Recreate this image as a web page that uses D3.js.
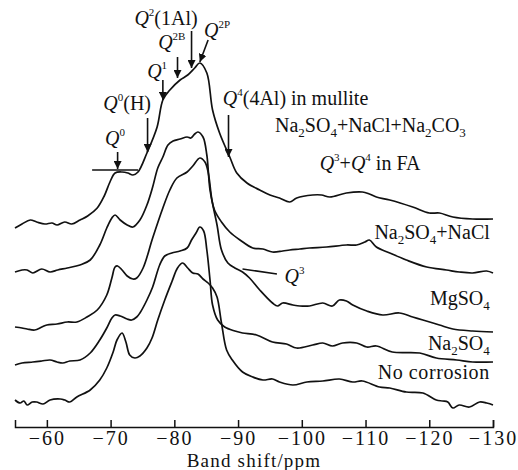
<!DOCTYPE html>
<meta charset="utf-8">
<style>
body { margin: 0; background: #fff; }
svg text { font-family: "Liberation Serif", "Times New Roman", serif; fill: #111; }
.trace { fill: none; stroke: #111; stroke-width: 1.7px; stroke-linejoin: round; }
.axis path, .axis line { stroke: #111; stroke-width: 1.5px; }
.axis text { font-size: 20px; letter-spacing: 2px; font-family: "Liberation Serif", serif; }
.note { font-size: 20px; }
.arrow { stroke: #111; stroke-width: 1.6px; fill: none; }
</style>
<body>
<script src="https://d3js.org/d3.v7.min.js"></script>
<script>

// stacked spectra, [ppm, intensity (a.u., stacked)]
var noCorrosion = [[-55,27],[-55.8,24],[-56.4,26],[-56.9,22],[-57.7,25],[-58.4,25],[-59.4,23],[-60.5,27],[-62.1,28],[-62.8,27],[-63.6,25],[-64.7,30],[-66.8,37],[-68.3,47],[-69.4,59],[-70.4,75],[-71,87],[-71.8,94],[-72.4,85],[-73,72],[-73.8,69],[-74.6,71],[-75.7,79],[-76.5,89],[-77.4,107],[-78.5,127],[-79.6,145],[-80.5,159],[-81.3,164],[-82.1,159],[-82.9,154],[-83.7,153],[-84.5,148],[-85.3,144],[-86,139],[-86.7,130],[-87.4,104],[-88.2,77],[-89.1,67],[-90.7,55],[-92.3,50],[-93.9,47],[-95.4,48],[-96.5,45],[-98.6,42],[-100.8,45],[-103.3,46],[-105.9,48],[-108,45],[-109.5,46],[-112.2,40],[-113.8,39],[-116.4,35],[-119,34],[-121.1,27],[-122.1,26],[-122.9,25],[-123.7,19],[-124.7,22],[-126.3,20],[-127.9,25],[-129,24],[-130,22]];

var na2so4 = [[-55,62],[-56.1,64],[-57.8,65],[-59.2,66],[-60.5,67],[-61.6,65],[-62.5,64],[-63.6,66],[-65.2,67],[-66.8,74],[-68.3,87],[-69.4,99],[-70.2,109],[-70.7,112],[-71.5,111],[-72.6,108],[-73.3,107],[-74.1,110],[-74.6,114],[-75.7,127],[-76.6,140],[-77.7,162],[-78.5,171],[-79.6,174],[-80.9,176],[-82,179],[-82.7,187],[-83.4,194],[-84,200],[-84.6,196],[-85.1,177],[-85.6,147],[-86,122],[-86.8,107],[-87.9,100],[-89.5,96],[-90.7,94],[-92.9,92],[-95.4,85],[-97.6,83],[-99.2,79],[-101.7,82],[-103.3,84],[-104.8,81],[-106.4,84],[-108.6,84],[-110.2,80],[-111.7,81],[-114.2,75],[-118.5,74],[-121.1,69],[-124.3,67],[-126.8,65],[-130,65]];

var mgso4 = [[-55,100],[-56.1,99],[-56.9,98],[-58.1,97],[-59.2,100],[-60,102],[-61.6,103],[-63.2,105],[-64.7,105],[-66.3,110],[-67.9,117],[-69.4,132],[-70.2,149],[-70.7,160],[-71.1,161],[-71.8,157],[-72.6,151],[-73.5,148],[-74.1,149],[-75.1,159],[-76.6,189],[-78.2,219],[-79.3,237],[-80.4,249],[-82,255],[-82.9,261],[-84,269],[-84.8,265],[-85.3,255],[-85.9,227],[-86.7,202],[-87.4,177],[-88.4,164],[-89.5,159],[-90.7,155],[-91.8,149],[-93.4,137],[-95.4,124],[-96.2,121],[-97,124],[-98.6,122],[-99.7,121],[-101.2,121],[-103.3,124],[-104.8,121],[-105.9,127],[-107,126],[-108,122],[-110.2,116],[-112.7,112],[-115.3,114],[-117.4,110],[-119,107],[-121.6,102],[-123.7,98],[-126.8,96],[-130,95]];

var na2so4NaCl = [[-55,155],[-56.1,157],[-56.9,157],[-57.8,154],[-59.2,158],[-60.5,155],[-61.7,157],[-63.2,159],[-65.2,162],[-66.8,167],[-68.3,182],[-69.4,199],[-70.2,209],[-70.7,212],[-71.5,207],[-72.6,202],[-73.5,200],[-74.6,207],[-75.7,222],[-76.6,240],[-77.4,259],[-78.2,270],[-79,282],[-79.8,286],[-80.9,288],[-82,290],[-82.6,289],[-83.2,293],[-83.7,295],[-84.5,290],[-85.1,272],[-85.6,237],[-86.3,217],[-87.4,205],[-88.7,195],[-90.3,187],[-92.3,179],[-93.9,178],[-95.4,175],[-97,176],[-98.1,177],[-99.7,178],[-101.2,179],[-103.9,180],[-107,182],[-108.6,182],[-109.9,185],[-110.6,187],[-111.7,180],[-113.8,174],[-116.4,167],[-119.6,160],[-122.7,157],[-124.7,155],[-126.8,154],[-129,156],[-130,154]];

var na2so4NaClNa2co3 = [[-55,199],[-56.1,203],[-57.4,207],[-58.4,205],[-59.7,203],[-60.8,204],[-61.6,202],[-62.8,205],[-63.9,203],[-65.2,207],[-66.4,211],[-67.9,219],[-69,231],[-69.9,245],[-70.7,254],[-71.8,255],[-72.7,254],[-73.5,252],[-74.3,255],[-75.7,274],[-77.3,300],[-78.2,327],[-79.3,337],[-80.9,347],[-82.1,352],[-83.2,359],[-84,364],[-85.1,354],[-86,317],[-87.1,294],[-88.7,270],[-89.8,254],[-91.4,244],[-93.4,237],[-95,232],[-96.5,229],[-98.1,225],[-99.2,229],[-101.7,232],[-103.1,232],[-104.4,230],[-107,234],[-109.5,235],[-110.6,233],[-111.7,230],[-113.8,227],[-117.4,220],[-120,214],[-121.6,214],[-123.7,210],[-126.8,208],[-130,208]];

var traces = [noCorrosion, na2so4, mgso4, na2so4NaCl, na2so4NaClNa2co3];
var xTicks = [-60, -70, -80, -90, -100, -110, -120, -130];

var width = 518, height = 470;
var x = d3.scaleLinear().domain([-55, -130]).range([15, 493]);
var y = d3.scaleLinear().domain([0, 420]).range([427, 7]);

var svg = d3.select("body").append("svg")
    .attr("width", width)
    .attr("height", height);

svg.append("defs").append("marker")
    .attr("id", "head")
    .attr("viewBox", "0 0 10 10")
    .attr("refX", 10).attr("refY", 5)
    .attr("markerWidth", 8).attr("markerHeight", 8)
    .attr("markerUnits", "userSpaceOnUse")
    .attr("orient", "auto")
  .append("path")
    .attr("d", "M0,0 L10,5 L0,10 z")
    .attr("fill", "#111");

var line = d3.line()
    .x(d => x(d[0]))
    .y(d => y(d[1]))
    .curve(d3.curveCatmullRom.alpha(0.5));

svg.selectAll(".trace")
    .data(traces)
  .enter().append("path")
    .attr("class", "trace")
    .attr("d", line);

var axis = svg.append("g")
    .attr("class", "axis")
    .attr("transform", "translate(0," + y(0) + ")")
    .call(d3.axisBottom(x)
      .tickValues(xTicks)
      .tickSizeInner(-7)
      .tickSizeOuter(-7)
      .tickPadding(4)
      .tickFormat(d => "\u2212" + Math.abs(d)));
axis.selectAll("text").attr("fill", "#111");

svg.append("text")
    .attr("x", (x(-55) + x(-130)) / 2)
    .attr("y", 467)
    .attr("text-anchor", "middle")
    .style("font-size", "19px")
    .style("letter-spacing", "1.2px")
    .text("Band shift/ppm");

// rich text: segments [text, style]
function rich(px, py, segs, anchor) {
  var t = svg.append("text").attr("class", "note")
      .attr("x", px).attr("y", py)
      .attr("text-anchor", anchor || "start");
  var shift = 0;
  segs.forEach(function(s) {
    var ts = t.append("tspan").text(s[0]);
    var target = s[1] == "sup" ? -9 : s[1] == "sub" ? 5 : 0;
    ts.attr("dy", target - shift);
    shift = target;
    if (s[1] == "sup") ts.style("font-size", "11px");
    if (s[1] == "sub") ts.style("font-size", "13px");
    if (s[1] == "i") ts.style("font-style", "italic");
  });
  return t;
}

function arrow(p0, p1) {
  svg.append("line").attr("class", "arrow")
      .attr("x1", x(p0[0])).attr("y1", y(p0[1]))
      .attr("x2", x(p1[0])).attr("y2", y(p1[1]))
      .attr("marker-end", "url(#head)");
}

// Q0 marker
svg.append("line").attr("class", "arrow")
    .attr("x1", x(-67.1)).attr("x2", x(-74.3))
    .attr("y1", y(257)).attr("y2", y(257));
rich(x(-70.7), y(282), [["Q", "i"], ["0", "sup"]], "middle");
arrow([-71.1, 275], [-71.1, 258]);

rich(x(-72.6), y(317), [["Q", "i"], ["0", "sup"], ["(H)", ""]], "middle");
arrow([-75.8, 309], [-75.8, 275]);

rich(x(-77.3), y(349), [["Q", "i"], ["1", "sup"]], "middle");
arrow([-78.2, 347], [-78.2, 327]);

rich(x(-79.6), y(378), [["Q", "i"], ["2B", "sup"]], "middle");
arrow([-80.5, 370], [-80.5, 349]);

rich(x(-78.7), y(402), [["Q", "i"], ["2", "sup"], ["(1Al)", ""]], "middle");
arrow([-82.7, 396], [-82.7, 359]);

rich(x(-86.7), y(390), [["Q", "i"], ["2P", "sup"]], "middle");
arrow([-85.3, 387], [-84, 365]);

rich(x(-87.6), y(322), [["Q", "i"], ["4", "sup"], ["(4Al) in mullite", ""]]);
arrow([-88.5, 312], [-88.5, 270]);

rich(x(-95.8), y(295), [["Na", ""], ["2", "sub"], ["SO", ""], ["4", "sub"], ["+NaCl+Na", ""], ["2", "sub"], ["CO", ""], ["3", "sub"]]);
rich(x(-102.8), y(257), [["Q", "i"], ["3", "sup"], ["+", ""], ["Q", "i"], ["4", "sup"], [" in FA", ""]]);

rich(x(-129.5), y(188), [["Na", ""], ["2", "sub"], ["SO", ""], ["4", "sub"], ["+NaCl", ""]], "end");

svg.append("line").attr("class", "arrow")
    .attr("x1", x(-90.7)).attr("y1", y(158))
    .attr("x2", x(-96.1)).attr("y2", y(153));
rich(x(-97.3), y(144), [["Q", "i"], ["3", "sup"]]);

rich(x(-129.5), y(122), [["MgSO", ""], ["4", "sub"]], "end");
rich(x(-129.5), y(77), [["Na", ""], ["2", "sub"], ["SO", ""], ["4", "sub"]], "end");
rich(x(-129.5), y(48), [["No corrosion", ""]], "end").style("letter-spacing", "0.6px");

</script>
